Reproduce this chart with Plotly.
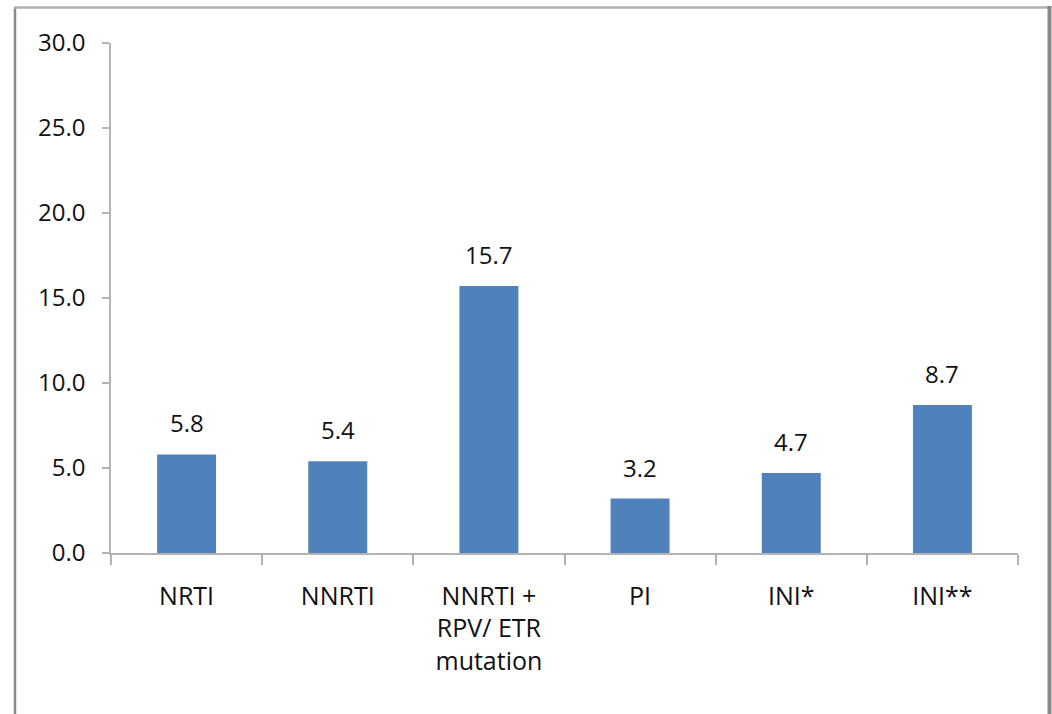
import plotly.graph_objects as go

categories = ["NRTI", "NNRTI", "NNRTI +<br>RPV/ ETR<br>mutation", "PI", "INI*", "INI**"]
values = [5.8, 5.4, 15.7, 3.2, 4.7, 8.7]
labels = ["5.8", "5.4", "15.7", "3.2", "4.7", "8.7"]
tick_vals = [0, 5, 10, 15, 20, 25, 30]
tick_text = ["0.0", "5.0", "10.0", "15.0", "20.0", "25.0", "30.0"]

FONT = "Open Sans"
fig = go.Figure()
fig.add_trace(go.Bar(
    x=list(range(len(categories))), y=values,
    marker=dict(color="#4F81BD", line=dict(width=0)),
    width=0.39,
))

for i, (v, t) in enumerate(zip(values, labels)):
    fig.add_annotation(x=i, y=v, text=t, showarrow=False, yanchor="bottom",
                       yshift=13, font=dict(family=FONT, size=24, color="#111111"))

W = 1052; H = 714
L, R, T, B = 111, 34, 43, 161
pw = W - L - R; ph = H - T - B
def px(x): return (x - L) / pw
def py(y): return (H - B - y) / ph

fig.add_shape(type="line", xref="paper", yref="paper", x0=px(15), x1=px(15), y0=py(7), y1=py(720),
              line=dict(color="#8a8a8a", width=2.5))
fig.add_shape(type="line", xref="paper", yref="paper", x0=px(14), x1=px(1049.5), y0=py(7.5), y1=py(7.5),
              line=dict(color="#b0b0b0", width=2.5))
fig.add_shape(type="line", xref="paper", yref="paper", x0=px(1049.5), x1=px(1049.5), y0=py(6), y1=py(720),
              line=dict(color="#888888", width=4))

fig.update_layout(
    width=W, height=H,
    margin=dict(l=L, r=R, t=T, b=B),
    paper_bgcolor="white", plot_bgcolor="white",
    showlegend=False,
    font=dict(family=FONT, size=24, color="#111111"),
    xaxis=dict(
        range=[-0.5, 5.5],
        tickmode="array", tickvals=list(range(len(categories))), ticktext=categories,
        showgrid=False, zeroline=False,
        showline=True, linecolor="#b3b3b3", linewidth=1.5,
        ticks="", ticklabelstandoff=20,
        tickfont=dict(family=FONT, size=25, color="#111111"),
        minor=dict(tickmode="array", tickvals=[i - 0.5 for i in range(len(categories) + 1)],
                   ticks="outside", ticklen=10, tickcolor="#b3b3b3", tickwidth=1.5),
    ),
    yaxis=dict(
        range=[0, 30],
        tickmode="array", tickvals=tick_vals, ticktext=tick_text,
        showgrid=False, zeroline=False,
        showline=True, linecolor="#b3b3b3", linewidth=1.5,
        ticks="outside", ticklen=7, tickcolor="#b3b3b3", tickwidth=1.5,
        tickfont=dict(family=FONT, size=24, color="#111111"),
        ticklabelstandoff=12,
    ),
)

fig.write_html("out.html")
